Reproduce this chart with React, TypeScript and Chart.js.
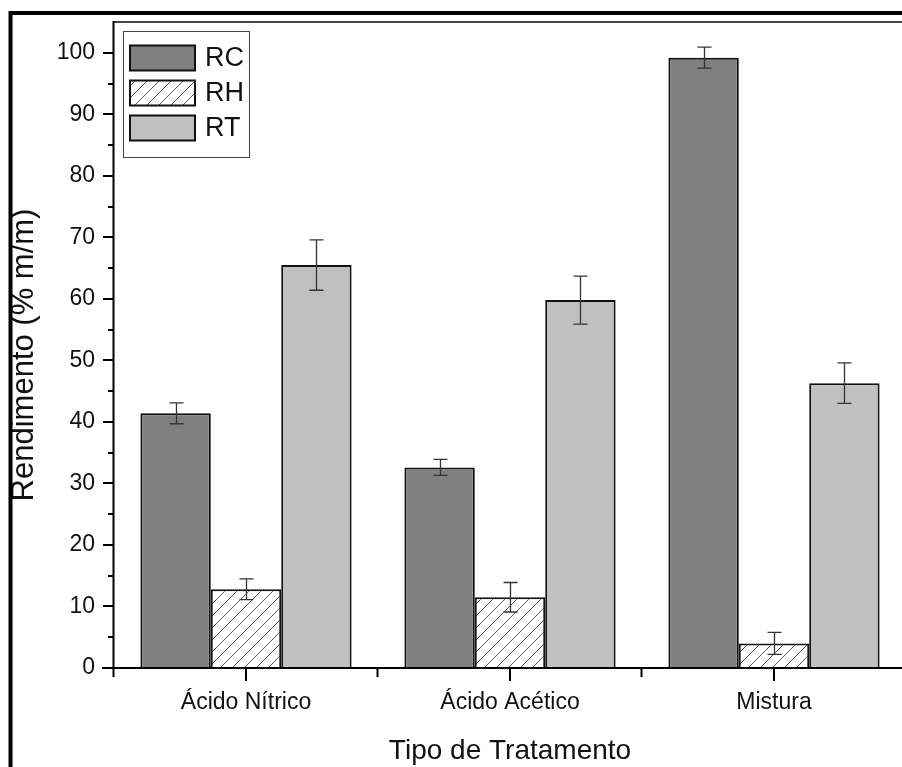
import React, { useEffect, useRef } from 'react';
import { Chart, registerables } from 'chart.js';

Chart.register(...registerables);

const categories = ['Ácido Nítrico', 'Ácido Acético', 'Mistura'];
const seriesNames = ['RC', 'RH', 'RT'];
const rcValues = [41.4, 32.6, 99.2];
const rcErrors = [1.7, 1.3, 1.7];
const rhValues = [12.8, 11.5, 4.0];
const rhErrors = [1.7, 2.4, 1.8];
const rtValues = [65.5, 59.8, 46.3];
const rtErrors = [4.1, 3.9, 3.3];
const yMajorTicks = [0, 10, 20, 30, 40, 50, 60, 70, 80, 90, 100];
const yMinorTicks = [5, 15, 25, 35, 45, 55, 65, 75, 85, 95];
const xTitle = 'Tipo de Tratamento';
const yTitle = 'Rendimento (% m/m)';

const FONT = '"Liberation Sans", Arial, Helvetica, sans-serif';
const INK = '#111';

export default function App() {
  const ref = useRef<HTMLCanvasElement>(null);

  useEffect(() => {
    const canvas = ref.current!;
    const ctx0 = canvas.getContext('2d')!;

    // hatch pattern for RH
    const pc = document.createElement('canvas');
    pc.width = 12;
    pc.height = 12;
    const p = pc.getContext('2d')!;
    p.fillStyle = '#ffffff';
    p.fillRect(0, 0, 12, 12);
    p.strokeStyle = '#555';
    p.lineWidth = 1;
    p.beginPath();
    p.moveTo(0, 12);
    p.lineTo(12, 0);
    p.moveTo(-1, 1);
    p.lineTo(1, -1);
    p.moveTo(11, 13);
    p.lineTo(13, 11);
    p.stroke();
    const hatch = ctx0.createPattern(pc, 'repeat')!;

    const fills = ['#808080', hatch, '#c0c0c0'];

    const errorBars = {
      id: 'errorBars',
      afterDatasetsDraw(chart: any) {
        const ctx = chart.ctx;
        const ys = chart.scales.y;
        ctx.save();
        ctx.strokeStyle = '#333';
        ctx.lineWidth = 1.3;
        chart.data.datasets.forEach((ds: any, i: number) => {
          const meta = chart.getDatasetMeta(i);
          meta.data.forEach((bar: any, j: number) => {
            const v = ds.data[j];
            const e = ds.errors[j];
            const x = Math.round(bar.x) + 0.5;
            const yt = ys.getPixelForValue(v + e);
            const yb = ys.getPixelForValue(v - e);
            ctx.beginPath();
            ctx.moveTo(x, yt);
            ctx.lineTo(x, yb);
            ctx.moveTo(x - 7, yt);
            ctx.lineTo(x + 7, yt);
            ctx.moveTo(x - 7, yb);
            ctx.lineTo(x + 7, yb);
            ctx.stroke();
          });
        });
        ctx.restore();
      },
    };

    const frame = {
      id: 'frame',
      afterDraw(chart: any) {
        const ctx = chart.ctx;
        const { left, right, top, bottom } = chart.chartArea;
        const xs = chart.scales.x;
        const ys = chart.scales.y;
        ctx.save();
        // plot top line
        ctx.strokeStyle = '#444';
        ctx.lineWidth = 2;
        ctx.beginPath();
        ctx.moveTo(left - 1, top);
        ctx.lineTo(chart.width, top);
        ctx.stroke();
        // axes
        ctx.strokeStyle = '#000';
        ctx.lineWidth = 2;
        ctx.beginPath();
        ctx.moveTo(left - 0.5, top - 1);
        ctx.lineTo(left - 0.5, bottom);
        ctx.moveTo(left - 12, bottom);
        ctx.lineTo(chart.width, bottom);
        ctx.stroke();
        // y ticks
        ctx.beginPath();
        yMajorTicks.forEach((v) => {
          const py = Math.round(ys.getPixelForValue(v));
          ctx.moveTo(left - 11, py);
          ctx.lineTo(left, py);
        });
        yMinorTicks.forEach((v) => {
          const py = Math.round(ys.getPixelForValue(v));
          ctx.moveTo(left - 6, py);
          ctx.lineTo(left, py);
        });
        // x ticks
        const n = categories.length;
        const step = (right - left) / n;
        categories.forEach((_, i) => {
          const px = Math.round(xs.getPixelForValue(i));
          ctx.moveTo(px, bottom);
          ctx.lineTo(px, bottom + 13);
        });
        for (let k = 0; k <= n; k++) {
          const px = Math.round(left + k * step) - 0.5;
          ctx.moveTo(px, bottom);
          ctx.lineTo(px, bottom + 9);
        }
        ctx.stroke();

        // y axis title
        ctx.save();
        ctx.translate(24, (top + bottom) / 2 + 10);
        ctx.rotate(-Math.PI / 2);
        ctx.font = `31px ${FONT}`;
        ctx.fillStyle = INK;
        ctx.textAlign = 'center';
        ctx.textBaseline = 'middle';
        ctx.fillText(yTitle, 0, 0);
        ctx.restore();

        // outer frame
        ctx.strokeStyle = '#000';
        ctx.lineWidth = 4;
        ctx.beginPath();
        ctx.moveTo(8.5, 13);
        ctx.lineTo(chart.width, 13);
        ctx.moveTo(10.5, 11);
        ctx.lineTo(10.5, chart.height);
        ctx.stroke();

        // legend
        const bx = left + 9.5;
        const by = top + 9.5;
        ctx.lineWidth = 1;
        ctx.strokeStyle = '#444';
        ctx.fillStyle = '#fff';
        ctx.fillRect(bx, by, 126, 126);
        ctx.strokeRect(bx, by, 126, 126);
        ctx.font = `27px ${FONT}`;
        ctx.textBaseline = 'middle';
        ctx.textAlign = 'left';
        seriesNames.forEach((name, i) => {
          const sx = bx + 6.5;
          const sy = by + 14 + i * 35;
          ctx.fillStyle = fills[i] as any;
          ctx.fillRect(sx, sy, 65, 25);
          ctx.lineWidth = 2;
          ctx.strokeStyle = '#111';
          ctx.strokeRect(sx, sy, 65, 25);
          ctx.fillStyle = INK;
          ctx.fillText(name, sx + 75, sy + 13);
        });
        ctx.restore();
      },
    };

    const datasets = [
      { label: seriesNames[0], data: rcValues, errors: rcErrors, backgroundColor: fills[0] },
      { label: seriesNames[1], data: rhValues, errors: rhErrors, backgroundColor: fills[1] },
      { label: seriesNames[2], data: rtValues, errors: rtErrors, backgroundColor: fills[2] },
    ].map((d) => ({
      ...d,
      borderColor: '#111',
      borderWidth: 2,
      borderSkipped: 'start',
      categoryPercentage: 0.8,
      barPercentage: 1.0,
    }));

    const chart = new Chart(canvas, {
      type: 'bar',
      data: { labels: categories, datasets: datasets as any },
      options: {
        responsive: false,
        animation: false,
        devicePixelRatio: 1,
        layout: { padding: { left: 0, top: 22, right: 34, bottom: 0 } },
        plugins: { legend: { display: false }, tooltip: { enabled: false } },
        events: [],
        scales: {
          x: {
            type: 'category',
            offset: true,
            grid: { display: false, drawTicks: false },
            border: { display: false },
            ticks: {
              color: INK,
              font: { family: FONT, size: 23 },
              padding: 21,
              maxRotation: 0,
              autoSkip: false,
            },
            title: {
              display: true,
              text: xTitle,
              color: INK,
              font: { family: FONT, size: 28 },
              padding: { top: 0, bottom: -1 },
            },
            afterFit: (s: any) => {
              s.height = 99;
              s.paddingLeft = 0;
              s.paddingRight = 0;
              s.paddingTop = 0;
              s.paddingBottom = 0;
            },
          },
          y: {
            type: 'linear',
            min: 0,
            max: 105,
            grid: { display: false, drawTicks: false },
            border: { display: false },
            ticks: {
              stepSize: 10,
              color: INK,
              font: { family: FONT, size: 23 },
              padding: 19,
            },
            afterBuildTicks: (s: any) => {
              s.ticks = yMajorTicks.map((v) => ({ value: v }));
            },
            title: { display: false },
            afterFit: (s: any) => {
              s.width = 114;
              s.paddingLeft = 0;
              s.paddingRight = 0;
              s.paddingTop = 0;
              s.paddingBottom = 0;
            },
          },
        },
      } as any,
      plugins: [errorBars, frame],
    });

    return () => chart.destroy();
  }, []);

  return (
    <div
      style={{
        position: 'fixed',
        left: 0,
        top: 0,
        width: 902,
        height: 767,
        overflow: 'hidden',
        background: '#fff',
      }}
    >
      <canvas ref={ref} width={940} height={767} style={{ display: 'block', width: 940, height: 767 }} />
    </div>
  );
}
